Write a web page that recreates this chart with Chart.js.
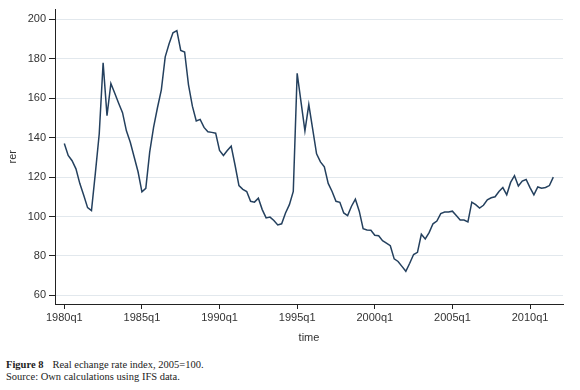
<!DOCTYPE html>
<html>
<head>
<meta charset="utf-8">
<script src="https://cdn.jsdelivr.net/npm/chart.js@4/dist/chart.umd.min.js"></script>
<style>
  body { margin: 0; background: #fff; }
  .wrap { position: relative; width: 580px; height: 390px; }
  #rerChart { position: absolute; left: 0; top: 0; }
  .caption { position: absolute; left: 6px; top: 359px; font-family: "Liberation Serif", serif; font-size: 10.5px; line-height: 11.5px; color: #222; }
  .caption b { margin-right: 9px; }
</style>
</head>
<body>
<div class="wrap">
  <canvas id="rerChart" width="580" height="345"></canvas>
  <div class="caption">
    <div><b>Figure 8</b>Real echange rate index, 2005=100.</div>
    <div>Source: Own calculations using IFS data.</div>
  </div>
</div>
<script>
// quarterly real exchange rate index, 1980q1 .. 2011q3
const startYear = 1980;
const rerValues = [
  137, 131, 128.3, 124.2, 116.7, 110.8, 104.5, 103, 122, 142, 178, 151.2,
  167.5, 162.5, 157.5, 152.7, 143.5, 137.7, 130.2, 122.7, 112.5, 114.3, 132.7, 145.2,
  155.2, 164.3, 181, 187.7, 193.2, 194.3, 184.3, 183.5, 166.8, 156, 148.5, 149.3,
  145.2, 143, 142.7, 142.3, 133.5, 131, 133.5, 135.7, 126, 115.7, 113.8, 112.7,
  107.7, 107.3, 109.3, 103.5, 99.3, 99.7, 98, 95.7, 96.3, 101.8, 106, 112.7,
  172.7, 158, 143.5, 156.8, 144.3, 131.8, 127.7, 125.2, 116.8, 112.7, 107.7, 107.2,
  101.8, 100.5, 105.2, 108.8, 102.7, 93.8, 93.2, 93, 90.5, 90.2, 87.7, 86.5,
  85.2, 78.5, 77.2, 74.7, 72.2, 76.3, 80.7, 81.8, 91, 88.6, 91.8, 96.3,
  97.7, 101.5, 102.3, 102.3, 102.7, 100.5, 98.2, 98.2, 97.3, 107.3, 106, 104.3,
  105.7, 108.5, 109.5, 110, 112.7, 114.7, 111, 117.3, 120.7, 115.5, 118, 118.8,
  114.7, 111, 115, 114.3, 114.7, 115.7, 120
];
const yTicks = [60, 80, 100, 120, 140, 160, 180, 200];
const xTickLabels = ['1980q1', '1985q1', '1990q1', '1995q1', '2000q1', '2005q1', '2010q1'];

const points = rerValues.map((v, i) => ({ x: i, y: v }));
const xTickValues = xTickLabels.map(lbl => (parseInt(lbl) - startYear) * 4);

const axisColor = '#222';
const textColor = '#333';
const tickFont = { family: '"Liberation Sans", Arial, sans-serif', size: 11 };

new Chart(document.getElementById('rerChart').getContext('2d'), {
  type: 'line',
  data: {
    datasets: [{
      data: points,
      borderColor: '#24405e',
      borderWidth: 1.5,
      pointRadius: 0,
      tension: 0,
      fill: false
    }]
  },
  options: {
    responsive: false,
    animation: false,
    events: [],
    layout: { padding: { top: 5, right: 17, left: 0, bottom: 0 } },
    plugins: { legend: { display: false }, tooltip: { enabled: false } },
    scales: {
      x: {
        type: 'linear',
        min: -2.4,
        max: 128.5,
        afterBuildTicks: scale => { scale.ticks = xTickValues.map(v => ({ value: v })); },
        afterFit: scale => { scale.height = 41; },
        ticks: {
          color: textColor,
          font: tickFont,
          padding: 2,
          maxRotation: 0,
          callback: (v) => xTickLabels[xTickValues.indexOf(v)]
        },
        grid: { drawOnChartArea: false, drawTicks: true, tickLength: 5, tickColor: axisColor },
        border: { display: true, color: axisColor, width: 1 },
        title: { display: true, text: 'time', color: textColor, font: tickFont, padding: { top: 1, bottom: 0 } }
      },
      y: {
        min: 55.6,
        max: 205,
        afterBuildTicks: scale => { scale.ticks = yTicks.map(v => ({ value: v })); },
        afterFit: scale => { scale.width = 55; },
        ticks: { color: textColor, font: tickFont, padding: 3 },
        grid: { color: '#e2e8ed', lineWidth: 1, drawTicks: true, tickLength: 6, tickColor: axisColor },
        border: { display: true, color: axisColor, width: 1 },
        title: { display: true, text: 'rer', color: textColor, font: tickFont, padding: { top: 6, bottom: 4 } }
      }
    }
  }
});
</script>
</body>
</html>
